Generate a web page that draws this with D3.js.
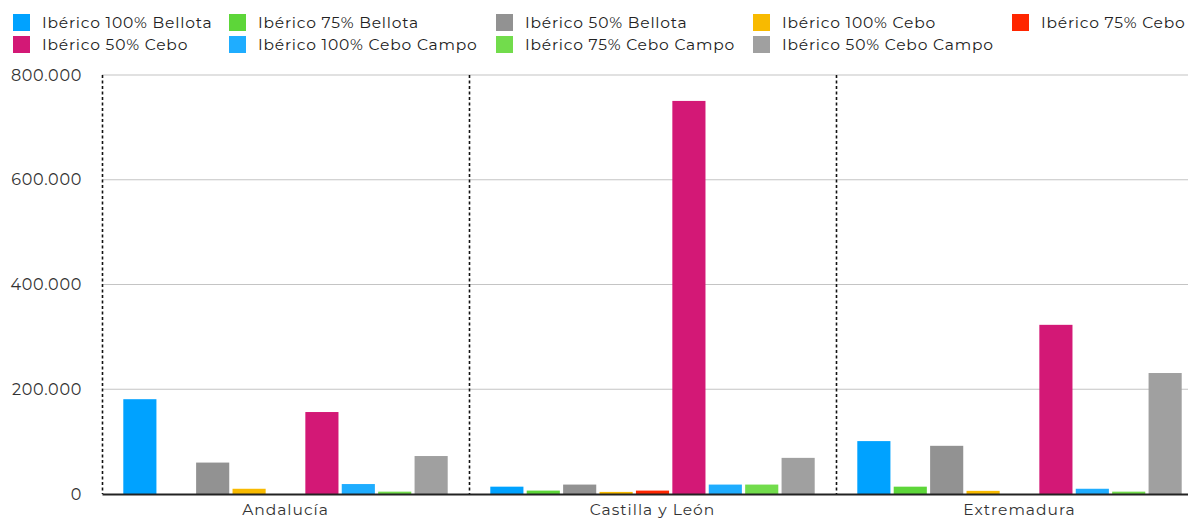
<!DOCTYPE html>
<html lang="es">
<head>
    <meta charset="UTF-8">
    <title>Ibérico por comunidad</title>
    <style>
        body { margin: 0; background: #fff; }
        svg { display: block; font-family: Montserrat, "Noto Sans", sans-serif; }
    </style>
</head>
<body>
    <div id="chart">
        <svg width="1188" height="521"></svg>
    </div>
    <script src="https://d3js.org/d3.v7.min.js"></script>
    <script>
    // regiones y tipos
    const regions = ["Andalucía", "Castilla y León", "Extremadura"];
    const series = ["Ibérico 100% Bellota", "Ibérico 75% Bellota", "Ibérico 50% Bellota",
        "Ibérico 100% Cebo", "Ibérico 75% Cebo", "Ibérico 50% Cebo",
        "Ibérico 100% Cebo Campo", "Ibérico 75% Cebo Campo", "Ibérico 50% Cebo Campo"];
    const colors = ["#00a2ff", "#5dd639", "#929292", "#f8ba00", "#ff2600", "#d31876",
        "#1fadff", "#72dc4c", "#a0a0a0"];

    // valores por region (mismo orden que series)
    const andalucia   = [181000, 0, 60000, 10000, 0, 156500, 19000, 4500, 72500];
    const castilla    = [14000, 6500, 18000, 4000, 6500, 750500, 18000, 18000, 69000];
    const extremadura = [101000, 14000, 92000, 6000, 0, 323000, 10000, 4500, 231000];
    const values = [andalucia, castilla, extremadura];

    const yTicks = [0, 200000, 400000, 600000, 800000];

    const svg = d3.select("svg");
    const mLeft = 102, mRight = 1203, mTop = 75, mBottom = 494;

    const x0 = d3.scaleBand().domain(regions).range([mLeft, mRight]).padding(0);
    const x1 = d3.scaleBand().domain(series).range([0, x0.bandwidth()])
        .paddingInner(0.09).paddingOuter(0.585);
    const y = d3.scaleLinear().domain([0, 800000]).range([mBottom, mTop]);

    const es = d3.formatLocale({decimal: ",", thousands: ".", grouping: [3], currency: ["", "€"]});
    const fmt = es.format(",d");

    // rejilla
    svg.append("g")
        .selectAll("line")
        .data(yTicks.slice(1))
        .enter()
        .append("line")
        .attr("x1", mLeft).attr("x2", mRight)
        .attr("y1", d => y(d)).attr("y2", d => y(d))
        .style("stroke", "#c4c4c4")
        .style("stroke-width", 1.2);

    // eje y
    const yAxis = svg.append("g")
        .attr("transform", "translate(" + mLeft + ",0)")
        .call(d3.axisLeft(y).tickValues(yTicks).tickFormat(fmt).tickSize(0).tickPadding(20));
    yAxis.select(".domain").remove();
    yAxis.selectAll("text")
        .style("font-family", "Montserrat, 'Noto Sans', sans-serif")
        .style("font-size", "16px")
        .style("letter-spacing", "0.7px")
        .style("fill", "#333");

    // barras
    svg.append("g")
        .selectAll("g")
        .data(values)
        .enter()
        .append("g")
        .attr("transform", (d, i) => "translate(" + x0(regions[i]) + ",0)")
        .selectAll("rect")
        .data(d => d.map((v, j) => ({v: v, s: series[j], c: colors[j]})))
        .enter()
        .append("rect")
        .attr("x", d => x1(d.s))
        .attr("width", x1.bandwidth())
        .attr("y", d => y(d.v))
        .attr("height", d => mBottom - y(d.v))
        .style("fill", d => d.c);

    // separadores punteados
    svg.append("g")
        .selectAll("line")
        .data(regions)
        .enter()
        .append("line")
        .attr("x1", d => x0(d) + 0.5).attr("x2", d => x0(d) + 0.5)
        .attr("y1", mTop).attr("y2", mBottom)
        .style("stroke", "#111")
        .style("stroke-width", 1.6)
        .style("stroke-dasharray", "3,2.5");

    // eje x
    const xAxis = svg.append("g")
        .attr("transform", "translate(0," + mBottom + ")")
        .call(d3.axisBottom(x0).tickSize(0).tickPadding(10));
    xAxis.select(".domain")
        .style("stroke", "#222")
        .style("stroke-width", 2);
    xAxis.selectAll("text")
        .style("font-family", "Montserrat, 'Noto Sans', sans-serif")
        .style("font-size", "15.5px")
        .style("letter-spacing", "1px")
        .style("fill", "#333");

    // leyenda
    const legendX = [13, 229, 496, 753, 1012];
    const legend = svg.append("g")
        .selectAll("g")
        .data(series)
        .enter()
        .append("g")
        .attr("transform", (d, i) => "translate(" + legendX[i % 5] + "," + (i < 5 ? 14 : 36) + ")");
    legend.append("rect")
        .attr("width", 17).attr("height", 17)
        .style("fill", (d, i) => colors[i]);
    legend.append("text")
        .attr("x", 29).attr("y", 9)
        .attr("dy", "0.35em")
        .style("font-size", "15.5px")
        .style("letter-spacing", "0.8px")
        .style("fill", "#222")
        .text(d => d);
    </script>
</body>
</html>
